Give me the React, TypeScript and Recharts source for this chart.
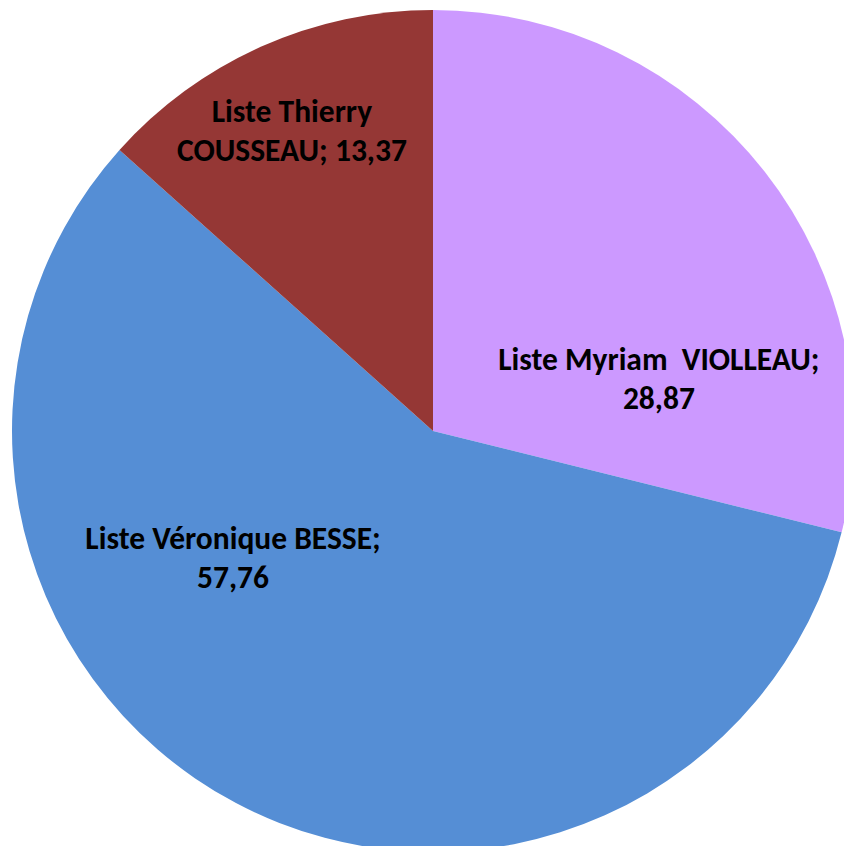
import { PieChart, Pie, Cell } from 'recharts';

// Résultats par liste (%), dans l'ordre horaire depuis midi
const names = ['Liste Myriam  VIOLLEAU', 'Liste Véronique BESSE', 'Liste Thierry COUSSEAU'];
const values = [28.87, 57.76, 13.37];
const colors = ['#CC99FF', '#558ED5', '#953735'];

// placement des étiquettes (angle en degrés, fraction du rayon) et largeur de retour à la ligne
const labelAngles = [12.7, -147.2, 115.3];
const labelRadii = [0.55, 0.565, 0.784];
const wrapChars = [24, 24, 16];

const data = names.map((name, i) => ({ name, value: values[i] }));

const RADIAN = Math.PI / 180;
const FONT = 'Calibri, Carlito, Lato, "Open Sans", sans-serif';

function wrap(text: string, max: number) {
    const words = text.split(' ');
    const lines: string[] = [];
    let line = '';
    words.forEach((w, k) => {
        const next = k === 0 ? w : line + ' ' + w;
        if (next.length > max && line.length > 0 && w.length > 0) {
            lines.push(line);
            line = w;
        } else {
            line = next;
        }
    });
    lines.push(line);
    return lines;
}

function renderLabel(props: any) {
    const { cx, cy, outerRadius, index } = props;
    const r = outerRadius * labelRadii[index];
    const a = labelAngles[index] * RADIAN;
    const x = cx + r * Math.cos(a);
    const y = cy - r * Math.sin(a) - 2;
    const full = `${names[index]}; ${values[index].toFixed(2).replace('.', ',')}`;
    const lines = wrap(full, wrapChars[index]);
    const lh = 39;
    const y0 = y - ((lines.length - 1) * lh) / 2;
    return (
        <text
            x={x}
            y={y0}
            textAnchor="middle"
            dominantBaseline="central"
            fill="#000"
            style={{ fontFamily: FONT, fontSize: 31.5, fontWeight: 700, whiteSpace: 'pre' }}>
            {lines.map((l, k) => (
                <tspan key={k} x={x} y={y0 + k * lh}>{l}</tspan>
            ))}
        </text>
    );
}

export default function App() {
    return (
        <div style={{ position: 'absolute', left: 0, top: 0, width: 844, height: 846, overflow: 'hidden', background: '#fff' }}>
            <PieChart width={844} height={846} margin={{ top: 0, right: 0, bottom: 0, left: 0 }}>
                <Pie
                    data={data}
                    dataKey="value"
                    nameKey="name"
                    cx={433}
                    cy={431}
                    outerRadius={421}
                    startAngle={90}
                    endAngle={-270}
                    stroke="none"
                    label={renderLabel}
                    labelLine={false}
                    isAnimationActive={false}>
                    {data.map((d, i) => (
                        <Cell key={d.name} fill={colors[i]} />
                    ))}
                </Pie>
            </PieChart>
        </div>
    );
}
